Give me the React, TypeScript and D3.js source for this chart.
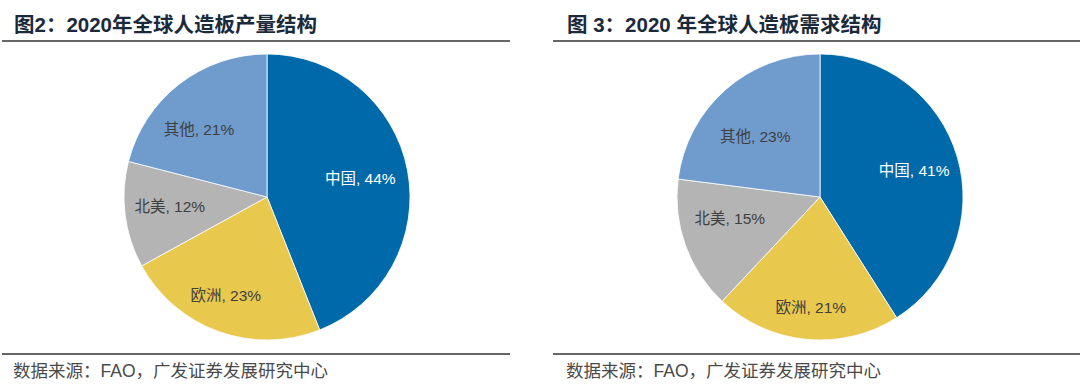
import React from 'react';
import * as d3 from 'd3';

const regions = ['中国', '欧洲', '北美', '其他'];
const productionShare = [44, 23, 12, 21];
const demandShare = [41, 21, 15, 23];
const titles = ['图2：2020年全球人造板产量结构', '图 3：2020 年全球人造板需求结构'];
const sourceText = '数据来源：FAO，广发证券发展研究中心';

const colors = ['#0069aa', '#e9c84e', '#b4b4b4', '#6f9bcd'];
const labelColors = ['#ffffff', '#404040', '#404040', '#404040'];

// label nudges (px) to mimic excel's best-fit placement
const leftNudge = [[-3, 0], [-8, 6], [0, -3], [-8, 10]];
const rightNudge = [[0, 1], [0, 13], [2, -12], [0, 13]];

const W = 1080;
const H = 391;
const R = 143;
const FONT = "'Liberation Sans', Arial, 'Noto Sans CJK SC', sans-serif";

function Pie({ values, cx, cy, nudge }: { values: number[]; cx: number; cy: number; nudge: number[][] }) {
  const pie = d3.pie<number>().sort(null).value((d) => d);
  const arcs = pie(values);
  const arc = d3.arc<d3.PieArcDatum<number>>().innerRadius(0).outerRadius(R);
  const labelArc = d3.arc<d3.PieArcDatum<number>>().innerRadius(98).outerRadius(98);
  return (
    <g transform={`translate(${cx},${cy})`}>
      {arcs.map((a, i) => (
        <path key={i} d={arc(a) || ''} fill={colors[i]} stroke="#ffffff" strokeWidth={0.8} />
      ))}
      {arcs.map((a, i) => {
        const [x, y] = labelArc.centroid(a);
        return (
          <text key={'t' + i} x={x + nudge[i][0]} y={y + nudge[i][1]} dy="0.35em" textAnchor="middle"
            fontSize={15.5} fill={labelColors[i]} fontFamily={FONT}>
            {regions[i] + ', ' + values[i] + '%'}
          </text>
        );
      })}
    </g>
  );
}

function Panel({ x0, x1, textX, title, values, cx, nudge }: any) {
  return (
    <g>
      <text x={textX} y={32} fontSize={20.5} fontWeight="bold" fill="#1b2a3b" fontFamily={FONT}>{title}</text>
      <line x1={x0} x2={x1} y1={41} y2={41} stroke="#333" strokeWidth={1.5} />
      <Pie values={values} cx={cx} cy={197} nudge={nudge} />
      <line x1={x0} x2={x1} y1={354} y2={354} stroke="#333" strokeWidth={1.5} />
      <text x={textX - 1} y={377} fontSize={17.5} fill="#4a4a4a" fontFamily={FONT}>{sourceText}</text>
    </g>
  );
}

export default function App() {
  return (
    <svg width={W} height={H} style={{ position: 'absolute', left: 0, top: 0, background: '#fff' }}>
      <rect width={W} height={H} fill="#fff" />
      <Panel x0={2} x1={510} textX={14} title={titles[0]} values={productionShare} cx={267} nudge={leftNudge} />
      <Panel x0={553} x1={1080} textX={567} title={titles[1]} values={demandShare} cx={820} nudge={rightNudge} />
    </svg>
  );
}
